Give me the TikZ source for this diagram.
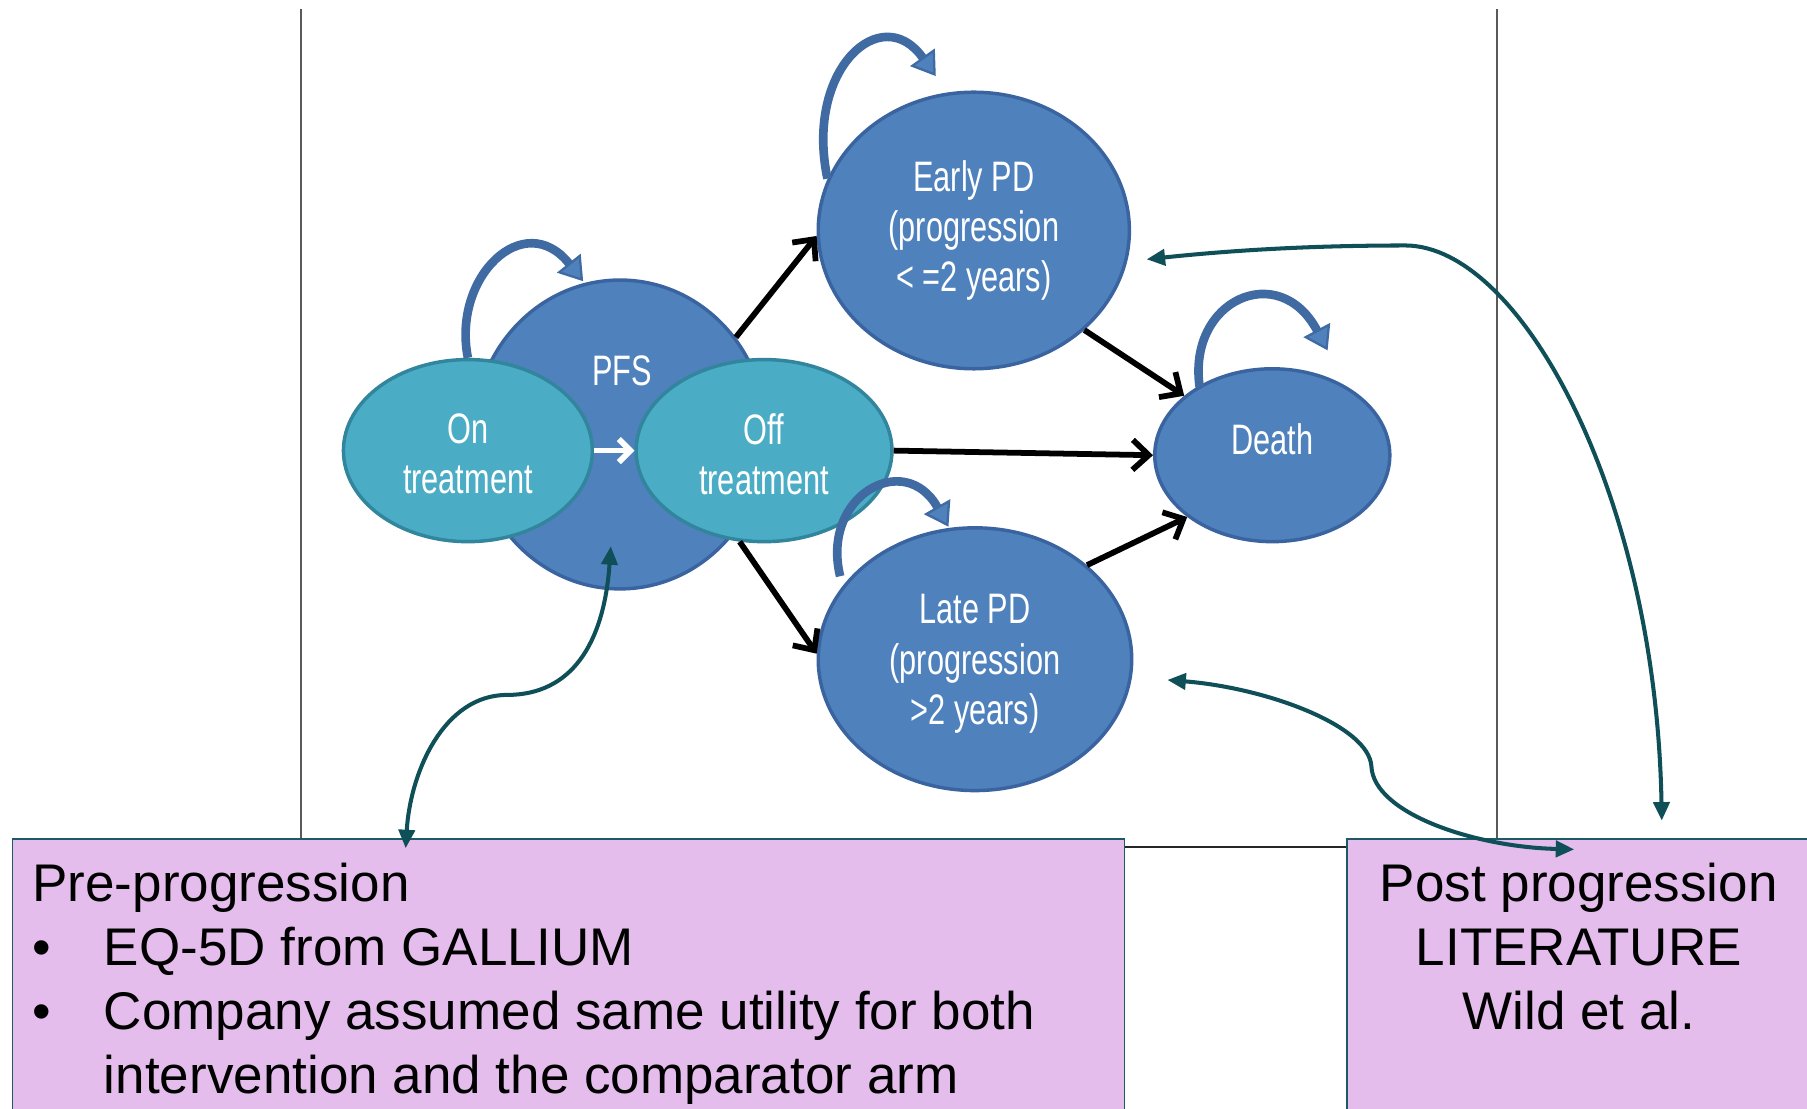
\documentclass[tikz,border=0pt]{standalone}
\usepackage{fontspec}
\setmainfont{Liberation Sans}
\newfontfamily\nodefont[FakeStretch=0.72]{Liberation Sans}
\usetikzlibrary{shapes.geometric,arrows.meta}
\definecolor{stblue}{HTML}{4F81BD}
\definecolor{stblueD}{HTML}{3A64A0}
\definecolor{stteal}{HTML}{4BACC6}
\definecolor{sttealD}{HTML}{31859C}
\definecolor{annot}{HTML}{0E4F58}
\definecolor{boxfill}{HTML}{E4BDEC}
\definecolor{boxline}{HTML}{1E5A66}
\definecolor{loopc}{HTML}{3F6AA2}
\tikzset{
  x=1pt,y=-1pt,
  bluestate/.style={ellipse,draw=stblueD,fill=stblue,line width=3pt,inner sep=0pt},
  tealstate/.style={ellipse,draw=sttealD,fill=stteal,line width=3pt,inner sep=0pt},
  stlabel/.style={text=white,align=center,font=\nodefont\fontsize{37}{43.5}\selectfont,inner sep=0pt},
  trans/.style={line width=5pt,black,-{Straight Barb[length=14pt,width=26pt,line width=5pt]}},
  loopar/.style={line width=7.5pt,loopc,-{Triangle[length=20pt,width=26pt,fill=stblue,line width=2pt]}},
  annar/.style={line width=3.5pt,annot,{Triangle[length=16pt,width=14pt]}-{Triangle[length=16pt,width=14pt]}},
  infobox/.style={draw=boxline,fill=boxfill,line width=1.5pt},
  boxtext/.style={font=\fontsize{46}{55.5}\selectfont,inner sep=0pt,anchor=base west,align=left},
}
\begin{document}
\begin{tikzpicture}
\useasboundingbox (0,0) rectangle (1568,962);
\fill[white] (0,0) rectangle (1568,962);
% frame lines
\draw[line width=1.5pt,black!65] (261,8) -- (261,727);
\draw[line width=1.5pt,black!65] (1299,8) -- (1299,727);
\draw[line width=2.5pt,black!85] (975,735) -- (1168,735);
% states
\node[bluestate,minimum width=254pt,minimum height=268pt] (pfs) at (538,377) {};
\node[tealstate,minimum width=216pt,minimum height=158pt] (on) at (406,391) {};
\node[tealstate,minimum width=222pt,minimum height=158pt] (off) at (663,391) {};
\node[bluestate,minimum width=270pt,minimum height=240pt] (early) at (845,200) {};
\node[bluestate,minimum width=204pt,minimum height=150pt] (death) at (1104,395) {};
\node[bluestate,minimum width=272pt,minimum height=228pt] (late) at (846,572) {};
% labels
\node[stlabel] (pfsl) at (540,322) {PFS};
\node[stlabel] (onl) at (406,394) {On\\treatment};
\node[stlabel] (offl) at (663,394) {Off\\treatment};
\node[stlabel] (earlyl) at (845,200) {Early PD\\(progression\\< =2 years)};
\node[stlabel] (deathl) at (1104,381) {Death};
\node[stlabel] (latel) at (846,576) {Late PD\\(progression\\>2 years)};
% white arrow
\draw[line width=5pt,white,-{Straight Barb[length=10pt,width=20pt,line width=5pt]}] (on.east) -- (off.west);
% transitions
\draw[trans] (pfs.40) -- (early.182);
\draw[trans] (early.-42) -- (death.146);
\draw[trans] (off.east) -- (death.west);
\draw[trans] (late.40) -- (death.216);
\draw[trans] (off.-105) -- (late.178);
% self loops
\coordinate (pfsloopS) at (on.north);
\coordinate (pfsloopE) at (506,244);
\draw[loopar] (pfsloopS) .. controls (392,240) and (455,180) .. (pfsloopE);
\coordinate (earlyloopS) at (718,155);
\coordinate (earlyloopE) at (812,66);
\draw[loopar] (earlyloopS) .. controls (698,60) and (765,0) .. (earlyloopE);
\coordinate (deathloopS) at (1041,336);
\coordinate (deathloopE) at (1152,304);
\draw[loopar] (deathloopS) .. controls (1030,260) and (1110,225) .. (deathloopE);
\coordinate (lateloopS) at (729,500);
\coordinate (lateloopE) at (823,457);
\draw[loopar] (lateloopS) .. controls (712,430) and (785,390) .. (lateloopE);
% info boxes
\node[infobox,minimum width=965pt,minimum height=260pt,anchor=north west,inner sep=0pt] (boxL) at (10,727) {};
\node[infobox,minimum width=420pt,minimum height=260pt,anchor=north west,inner sep=0pt] (boxR) at (1168,727) {};
\node[boxtext] (boxLt) at (28,948.5) {Pre-progression\\
\makebox[62pt][l]{\textbullet}EQ-5D from GALLIUM\\
\makebox[62pt][l]{\textbullet}Company assumed same utility for both\\
\makebox[62pt][l]{}intervention and the comparator arm};
\node[font=\fontsize{46}{55.5}\selectfont,inner sep=0pt,anchor=base,align=center] (boxRt) at (1370,893) {Post progression\\LITERATURE\\Wild et al.};
% annotation arrows
\coordinate (aPFS) at (530,474);
\coordinate (aBoxL) at (352,736);
\draw[annar] (aPFS) .. controls (524,560) and (495,603) .. (440,603) .. controls (385,603) and (356,670) .. (aBoxL);
\coordinate (aEarly) at (995,225);
\coordinate (aBoxR1) at (1442,712);
\draw[annar] (aEarly) .. controls (1080,216) and (1150,213) .. (1220,213) .. controls (1320,214) and (1437,430) .. (aBoxR1);
\coordinate (aLate) at (1013,590);
\coordinate (aBoxR2) at (1366,737);
\draw[annar] (aLate) .. controls (1100,597) and (1188,630) .. (1190,665) .. controls (1192,706) and (1280,735) .. (aBoxR2);
\end{tikzpicture}
\end{document}
